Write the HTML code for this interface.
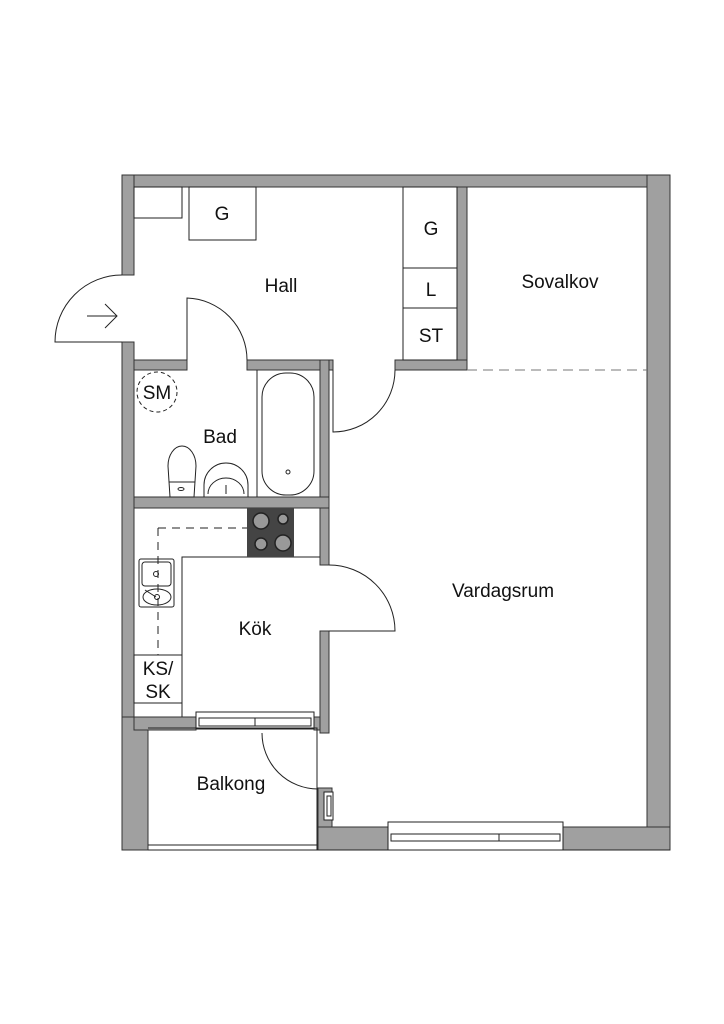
<!DOCTYPE html>
<html><head><meta charset="utf-8"><style>
html,body{margin:0;padding:0;background:#fff}
svg{display:block}
text{font-family:"Liberation Sans",sans-serif;font-size:19px;fill:#111}
</style></head><body>
<svg width="724" height="1024" viewBox="0 0 724 1024" xmlns="http://www.w3.org/2000/svg">
<g fill="#a0a0a0" stroke="#333" stroke-width="1">
<!-- outer walls -->
<rect x="122" y="175" width="548" height="12"/>
<rect x="647" y="175" width="23" height="675"/>
<rect x="122" y="175" width="12" height="100"/>
<rect x="122" y="342" width="12" height="388"/>
<rect x="122" y="717" width="26" height="133"/>
<rect x="134" y="717" width="62" height="13"/>
<rect x="314" y="717" width="6" height="13"/>
<rect x="318" y="827" width="70" height="23"/>
<rect x="563" y="827" width="107" height="23"/>
<rect x="318" y="788" width="14" height="39"/>
<!-- interior walls -->
<rect x="457" y="187" width="10" height="183"/>
<rect x="395" y="360" width="72" height="10"/>
<rect x="134" y="360" width="53" height="10"/>
<rect x="247" y="360" width="86" height="10"/>
<rect x="320" y="360" width="9" height="148"/>
<rect x="134" y="497" width="195" height="11"/>
<rect x="320" y="508" width="9" height="57"/>
<rect x="320" y="631" width="9" height="102"/>
</g>
<g fill="none" stroke="#222" stroke-width="1">
<!-- closets -->
<rect x="403" y="187" width="54" height="173"/>
<line x1="403" y1="268" x2="457" y2="268"/>
<line x1="403" y1="308" x2="457" y2="308"/>
<rect x="134" y="187" width="48" height="31"/>
<rect x="189" y="187" width="67" height="53"/>
<!-- entrance door -->
<path d="M122 275 A67 67 0 0 0 55 342 L122 342"/>
<path d="M87 316 L117 316 M105 304 L117 316 L105 328"/>
<!-- bad door -->
<path d="M187 360 L187 298 A62 62 0 0 1 247 360"/>
<!-- hall to vardagsrum door -->
<path d="M333 370 L333 432 A62 62 0 0 0 395 370"/>
<!-- sovalkov dashed -->
<line x1="467" y1="370" x2="647" y2="370" stroke="#777" stroke-dasharray="10,6"/>
<!-- bath -->
<line x1="257" y1="370" x2="257" y2="497"/>
<rect x="262" y="373" width="52" height="122" rx="24"/>
<circle cx="288" cy="472" r="2"/>
<!-- SM -->
<circle cx="157" cy="392" r="20" stroke-dasharray="4,3"/>
<!-- toilet -->
<path d="M168 466 A14 20 0 0 1 196 466 L194 497 L170 497 Z"/>
<line x1="169" y1="482" x2="195" y2="482"/>
<ellipse cx="181" cy="489" rx="3" ry="1.5"/>
<!-- sink -->
<path d="M204 497 L204 485 A22 22 0 0 1 248 485 L248 497"/>
<path d="M208 494 A18 16 0 0 1 244 494"/>
<line x1="226" y1="485" x2="226" y2="494"/>
<!-- kitchen counters -->
<path d="M182 717 L182 557 L320 557"/>
<rect x="134" y="655" width="48" height="48"/>
<line x1="158" y1="528" x2="247" y2="528" stroke-dasharray="8,6"/>
<line x1="158" y1="528" x2="158" y2="655" stroke-dasharray="8,6"/>
<rect x="139" y="559" width="35" height="48" rx="2"/>
<rect x="142" y="562" width="29" height="24" rx="3"/>
<ellipse cx="157" cy="597" rx="14" ry="8"/>
<circle cx="156" cy="574" r="2.5"/>
<circle cx="157" cy="597" r="2.5"/>
<line x1="145" y1="590" x2="156" y2="597"/>
<!-- kitchen door -->
<path d="M329 565 A66 66 0 0 1 395 631 L329 631"/>
<!-- kitchen window -->
<rect x="196" y="712" width="118" height="17"/>
<rect x="199" y="718" width="112" height="8"/>
<line x1="255" y1="718" x2="255" y2="726"/>
<!-- balcony -->
<path d="M148 728 L317 728 L317 850 M148 845 L317 845 M148 850 L670 850"/>
<path d="M262 733 A56 56 0 0 0 318 789"/>
<rect x="324" y="792" width="9" height="28" fill="#fff"/>
<rect x="327" y="796" width="4" height="20"/>
<!-- living window -->
<rect x="388" y="822" width="175" height="28" fill="#fff"/>
<rect x="391" y="834" width="169" height="7"/>
<line x1="499" y1="834" x2="499" y2="841"/>
</g>
<!-- stove -->
<rect x="247" y="508" width="47" height="49" fill="#444"/>
<g fill="#999" stroke="#222" stroke-width="1.5">
<circle cx="261" cy="521" r="8"/><circle cx="283" cy="519" r="5"/>
<circle cx="261" cy="544" r="6"/><circle cx="283" cy="543" r="8"/>
</g>
<text x="222" y="220" text-anchor="middle">G</text>
<text x="431" y="235" text-anchor="middle">G</text>
<text x="431" y="296" text-anchor="middle">L</text>
<text x="431" y="342" text-anchor="middle">ST</text>
<text x="281" y="292" text-anchor="middle">Hall</text>
<text x="560" y="288" text-anchor="middle">Sovalkov</text>
<text x="157" y="399" text-anchor="middle">SM</text>
<text x="220" y="443" text-anchor="middle">Bad</text>
<text x="255" y="635" text-anchor="middle">Kök</text>
<text x="158" y="675" text-anchor="middle">KS/</text>
<text x="158" y="698" text-anchor="middle">SK</text>
<text x="503" y="597" text-anchor="middle">Vardagsrum</text>
<text x="231" y="790" text-anchor="middle">Balkong</text>
</svg>
</body></html>
